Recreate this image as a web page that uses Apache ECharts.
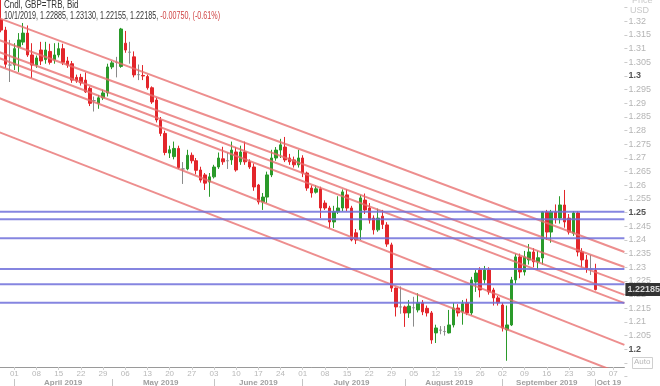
<!DOCTYPE html>
<html><head><meta charset="utf-8">
<script src="https://cdn.jsdelivr.net/npm/echarts@6/dist/echarts.min.js"></script>
<style>html,body{margin:0;padding:0;background:#fff}#c{width:660px;height:386px}</style>
</head><body><div id="c"></div><script>
const dates = [
'2019-03-27','2019-03-28','2019-03-29',
'2019-04-01','2019-04-02','2019-04-03','2019-04-04','2019-04-05','2019-04-08','2019-04-09','2019-04-10','2019-04-11','2019-04-12','2019-04-15','2019-04-16','2019-04-17','2019-04-18','2019-04-19','2019-04-22','2019-04-23','2019-04-24','2019-04-25','2019-04-26','2019-04-29','2019-04-30',
'2019-05-01','2019-05-02','2019-05-03','2019-05-06','2019-05-07','2019-05-08','2019-05-09','2019-05-10','2019-05-13','2019-05-14','2019-05-15','2019-05-16','2019-05-17','2019-05-20','2019-05-21','2019-05-22','2019-05-23','2019-05-24','2019-05-27','2019-05-28','2019-05-29','2019-05-30','2019-05-31',
'2019-06-03','2019-06-04','2019-06-05','2019-06-06','2019-06-07','2019-06-10','2019-06-11','2019-06-12','2019-06-13','2019-06-14','2019-06-17','2019-06-18','2019-06-19','2019-06-20','2019-06-21','2019-06-24','2019-06-25','2019-06-26','2019-06-27','2019-06-28',
'2019-07-01','2019-07-02','2019-07-03','2019-07-04','2019-07-05','2019-07-08','2019-07-09','2019-07-10','2019-07-11','2019-07-12','2019-07-15','2019-07-16','2019-07-17','2019-07-18','2019-07-19','2019-07-22','2019-07-23','2019-07-24','2019-07-25','2019-07-26','2019-07-29','2019-07-30','2019-07-31',
'2019-08-01','2019-08-02','2019-08-05','2019-08-06','2019-08-07','2019-08-08','2019-08-09','2019-08-12','2019-08-13','2019-08-14','2019-08-15','2019-08-16','2019-08-19','2019-08-20','2019-08-21','2019-08-22','2019-08-23','2019-08-26','2019-08-27','2019-08-28','2019-08-29','2019-08-30',
'2019-09-02','2019-09-03','2019-09-04','2019-09-05','2019-09-06','2019-09-09','2019-09-10','2019-09-11','2019-09-12','2019-09-13','2019-09-16','2019-09-17','2019-09-18','2019-09-19','2019-09-20','2019-09-23','2019-09-24','2019-09-25','2019-09-26','2019-09-27','2019-09-30',
'2019-10-01','2019-10-02','2019-10-03','2019-10-04','2019-10-07','2019-10-08','2019-10-09'
];
const opens = [1.3205,1.3168,1.3040,1.3040,1.3106,1.3124,1.3157,1.3077,1.3040,1.3095,1.3060,1.3090,1.3059,1.3077,1.3100,1.3055,1.3045,1.2995,1.2995,1.2985,1.2955,1.2910,1.2900,1.2920,1.2938,
1.3033,1.3050,1.3035,1.3120,1.3087,1.3070,1.3005,1.3002,1.2998,1.2957,1.2912,1.2839,1.2790,1.2718,1.2705,1.2735,1.2660,1.2660,1.2710,1.2690,1.2656,1.2638,1.2612,
1.2631,1.2667,1.2697,1.2690,1.2693,1.2722,1.2686,1.2722,1.2686,1.2667,1.2601,1.2539,1.2557,1.2638,1.2700,1.2729,1.2740,1.2700,1.2693,1.2675,
1.2700,1.2645,1.2590,1.2575,1.2587,1.2535,1.2517,1.2466,1.2503,1.2517,1.2565,1.2517,1.2426,1.2437,1.2546,1.2517,1.2480,1.2437,1.2487,1.2455,1.2382,1.2224,1.2155,
1.2155,1.2133,1.2152,1.2144,1.2170,1.2150,1.2133,1.2060,1.2070,1.2065,1.2060,1.2089,1.2151,1.2137,1.2170,1.2133,1.2246,1.2290,1.2254,1.2290,1.2217,1.2188,
1.2162,1.2071,1.2089,1.2254,1.2338,1.2283,1.2327,1.2356,1.2320,1.2334,1.2502,1.2429,1.2502,1.2480,1.2528,1.2480,1.2425,1.2499,1.2356,1.2327,1.22935,
1.22885];
const highs = [1.3290,1.3180,1.3132,1.3120,1.3157,1.3194,1.3185,1.3120,1.3075,1.3125,1.3125,1.3118,1.3120,1.3122,1.3118,1.3070,1.3055,1.3005,1.3008,1.3013,1.2962,1.2925,1.2930,1.2950,1.3045,
1.3055,1.3070,1.3176,1.3165,1.3125,1.3090,1.3042,1.3040,1.3005,1.2962,1.2920,1.2850,1.2800,1.2745,1.2760,1.2745,1.2685,1.2730,1.2720,1.2700,1.2668,1.2645,1.2645,
1.2675,1.2720,1.2741,1.2720,1.2760,1.2740,1.2745,1.2760,1.2695,1.2680,1.2605,1.2572,1.2650,1.2730,1.2740,1.2770,1.2777,1.2715,1.2705,1.2730,
1.2710,1.2650,1.2600,1.2600,1.2595,1.2545,1.2525,1.2525,1.2560,1.2585,1.2585,1.2525,1.2440,1.2565,1.2570,1.2535,1.2490,1.2515,1.2510,1.2465,1.2390,1.2226,1.2230,
1.2160,1.2180,1.2192,1.2205,1.2180,1.2160,1.2140,1.2090,1.2085,1.2085,1.2144,1.2170,1.2165,1.2180,1.2185,1.2265,1.2290,1.2300,1.2305,1.2300,1.2225,1.2195,
1.2170,1.2160,1.2265,1.2350,1.2350,1.2360,1.2385,1.2370,1.2360,1.2505,1.2510,1.2510,1.2530,1.2560,1.2583,1.2495,1.2505,1.2505,1.2370,1.2345,1.2345,
1.23130];
const lows = [1.3160,1.3030,1.2978,1.3022,1.3015,1.3113,1.3070,1.2993,1.3030,1.3040,1.3045,1.3042,1.3045,1.3068,1.3040,1.3030,1.2975,1.2975,1.2965,1.2938,1.2890,1.2870,1.2880,1.2912,1.2925,
1.3025,1.2995,1.3030,1.3085,1.3045,1.2995,1.2985,1.2985,1.2950,1.2898,1.2830,1.2780,1.2710,1.2700,1.2695,1.2660,1.2605,1.2655,1.2680,1.2640,1.2610,1.2583,1.2558,
1.2625,1.2660,1.2675,1.2660,1.2675,1.2650,1.2675,1.2675,1.2660,1.2580,1.2530,1.2510,1.2535,1.2630,1.2690,1.2700,1.2685,1.2675,1.2665,1.2665,
1.2630,1.2580,1.2555,1.2570,1.2480,1.2510,1.2444,1.2444,1.2495,1.2505,1.2505,1.2395,1.2385,1.2400,1.2495,1.2460,1.2420,1.2430,1.2440,1.2375,1.2210,1.2120,1.2130,
1.2082,1.2115,1.2083,1.2135,1.2125,1.2120,1.2020,1.2023,1.2055,1.2050,1.2058,1.2080,1.2120,1.2090,1.2125,1.2125,1.2210,1.2190,1.2240,1.2200,1.2160,1.2160,
1.2065,1.1958,1.2085,1.2240,1.2260,1.2270,1.2310,1.2300,1.2290,1.2310,1.2400,1.2390,1.2460,1.2460,1.2445,1.2420,1.2415,1.2340,1.2300,1.2280,1.2272,
1.22155];
const closes = [1.3168,1.3043,1.3040,1.3100,1.3132,1.3157,1.3077,1.3040,1.3066,1.3055,1.3095,1.3050,1.3077,1.3100,1.3050,1.3040,1.2985,1.2982,1.2975,1.2942,1.2900,1.2910,1.2920,1.2938,1.3033,
1.3048,1.3050,1.3172,1.3095,1.3087,1.3004,1.3005,1.3000,1.2957,1.2905,1.2839,1.2790,1.2720,1.2730,1.2735,1.2665,1.2660,1.2710,1.2690,1.2655,1.2619,1.2608,1.2631,
1.2667,1.2700,1.2686,1.2690,1.2729,1.2656,1.2722,1.2686,1.2667,1.2594,1.2539,1.2557,1.2638,1.2700,1.2729,1.2748,1.2693,1.2686,1.2675,1.2700,
1.2645,1.2590,1.2572,1.2587,1.2517,1.2517,1.2466,1.2503,1.2517,1.2576,1.2517,1.2400,1.2400,1.2554,1.2510,1.2473,1.2437,1.2480,1.2457,1.2385,1.2224,1.2155,1.2155,
1.2133,1.2158,1.2152,1.2170,1.2137,1.2133,1.2034,1.2078,1.2070,1.2065,1.2089,1.2151,1.2133,1.2167,1.2133,1.2254,1.2279,1.2217,1.2290,1.2210,1.2188,1.2170,
1.2078,1.2089,1.2254,1.2338,1.2283,1.2338,1.2356,1.2320,1.2335,1.2502,1.2429,1.2502,1.2480,1.2528,1.2466,1.2429,1.2499,1.2356,1.2327,1.2298,1.22935,
1.22185];
const hLevels = [1.2503, 1.2476, 1.2406, 1.2294, 1.2238, 1.2170];
const trendX = [-0.5, 140.5];
const trendLeft = [1.3212, 1.3132, 1.3088, 1.3066, 1.3037, 1.2920, 1.2795];
const trendRight = [1.2356, 1.2301, 1.2243, 1.2199, 1.2169, 1.2016, 1.1906];
const monthStarts = ['2019-04-01','2019-05-01','2019-06-03','2019-07-01','2019-08-01','2019-09-02','2019-10-01'];
const monthLabels = [['2019-04-16','April 2019'],['2019-05-16','May 2019'],['2019-06-17','June 2019'],['2019-07-16','July 2019'],['2019-08-15','August 2019'],['2019-09-16','September 2019'],['2019-10-04','Oct 19']];
const yLabelMin = 1.19, yLabelMax = 1.33, yLabelStep = 0.005;
const yShownMin = 1.2, yShownMax = 1.32;
const plotMin = 1.19352, plotMax = 1.32781;
const instrument = 'Cndl, GBP=TRB, Bid';

const monthMap = Object.fromEntries(monthLabels);
const isMonday = v => new Date(v + 'T00:00:00Z').getUTCDay() === 1;
const n = closes.length;
const candleData = opens.map((o, i) => [o, closes[i], lows[i], highs[i]]);
const last = n - 1;
const chg = closes[last] - closes[last - 1];
const pct = chg / closes[last - 1] * 100;
const d = dates[last].split('-');
const hdr = `${+d[1]}/${+d[2]}/${d[0]}, ${opens[last].toFixed(5)}, ${highs[last].toFixed(5)}, ${lows[last].toFixed(5)}, ${closes[last].toFixed(5)}, `;
const hdrChg = `${chg.toFixed(5)}, (${pct.toFixed(2)}%)`;
const AFONT = '"Liberation Sans",Arial,sans-serif';

const gridL = -1.2, gridR = 35.6;
const chart = echarts.init(document.getElementById('c'), null, {renderer: 'canvas'});
const trendSeries = trendLeft.map((l, k) => ({
  type: 'line', xAxisIndex: 2, yAxisIndex: 0, silent: true, showSymbol: false, symbol: 'none',
  data: [[trendX[0], l], [trendX[1], trendRight[k]]],
  lineStyle: {color: 'rgba(232,110,110,0.78)', width: 2}, z: 4, animation: false
}));
const levelSeries = hLevels.map(v => ({
  type: 'line', xAxisIndex: 2, yAxisIndex: 0, silent: true, showSymbol: false, symbol: 'none',
  data: [[trendX[0], v], [trendX[1], v]],
  lineStyle: {color: 'rgba(112,112,218,0.85)', width: 2}, z: 5, animation: false
}));
chart.setOption({
  animation: false,
  backgroundColor: '#fff',
  grid: [
    {left: gridL, right: gridR, top: 0, bottom: 19, containLabel: false, outerBoundsMode: 'none'},
    {left: gridL, right: gridR, top: -5.99, bottom: 9.37, containLabel: false, outerBoundsMode: 'none'}
  ],
  xAxis: [
    {type: 'category', gridIndex: 0, data: dates, boundaryGap: true,
     axisLine: {show: true, lineStyle: {color: '#9a9a9a', width: 1}},
     axisTick: {show: true, alignWithLabel: true, interval: (i, v) => isMonday(v), length: 3, lineStyle: {color: '#cfcfcf'}},
     axisLabel: {interval: (i, v) => isMonday(v), formatter: v => v.slice(8), color: '#b8b8b8', fontSize: 8, fontFamily: AFONT, margin: 3},
     splitLine: {show: false}},
    {type: 'category', gridIndex: 0, data: dates, boundaryGap: true, position: 'bottom', offset: 12,
     axisLine: {show: false},
     axisTick: {show: true, alignWithLabel: true, interval: (i, v) => monthStarts.includes(v), length: 7, inside: false, lineStyle: {color: '#c4c4c4'}},
     axisLabel: {interval: (i, v) => v in monthMap, formatter: v => monthMap[v] || '', color: '#a0a0a0', fontSize: 8, fontWeight: 'bold', fontFamily: AFONT, margin: 0},
     splitLine: {show: false}},
    {type: 'value', gridIndex: 0, min: trendX[0], max: trendX[1], show: false, splitLine: {show: false}},
    {type: 'category', gridIndex: 1, data: dates, show: false}
  ],
  yAxis: [
    {type: 'value', gridIndex: 0, min: plotMin, max: plotMax, show: false, splitLine: {show: false}},
    {type: 'value', gridIndex: 1, position: 'right', min: yLabelMin, max: yLabelMax, interval: yLabelStep,
     axisLine: {show: false}, splitLine: {show: false},
     axisTick: {show: true, length: 3, lineStyle: {color: '#cccccc'}},
     axisLabel: {margin: 4, fontSize: 9, fontFamily: AFONT, color: '#b5b5b5',
       formatter: v => {
         if (v < yShownMin - 1e-6 || v > yShownMax + 1e-6) return '';
         const s = String(parseFloat(v.toFixed(3)));
         return Math.abs(v * 20 - Math.round(v * 20)) < 1e-6 ? '{b|' + s + '}' : s;
       },
       rich: {b: {color: '#555', fontWeight: 'bold', fontSize: 9, fontFamily: AFONT}}}}
  ],
  series: [
    {type: 'candlestick', xAxisIndex: 0, yAxisIndex: 0, data: candleData, barWidth: 3, z: 3,
     itemStyle: {color: '#2a9a2a', color0: '#e3262b', borderColor: '#2a9a2a', borderColor0: '#e3262b', borderColorDoji: '#8a8a8a', borderWidth: 1}},
    {type: 'scatter', xAxisIndex: 2, yAxisIndex: 0, data: [[trendX[1], closes[last]]], symbolSize: 0, clip: false, silent: true, z: 10,
     label: {show: true, position: 'right', distance: 1, formatter: closes[last].toFixed(5), backgroundColor: '#000', color: '#fff',
       fontWeight: 'bold', fontSize: 9, fontFamily: AFONT, padding: [2, 3, 2, 2]}}
  ].concat(trendSeries, levelSeries),
  graphic: [
    {type: 'text', left: 4, top: 0, scaleX: 0.8, originX: 0, style: {text: instrument, font: '10px ' + AFONT, fill: '#333'}},
    {type: 'text', left: 4, top: 11, scaleX: 0.72, originX: 0, style: {rich: {a: {fill: '#333', font: '10px ' + AFONT}, r: {fill: '#d04545', font: '10px ' + AFONT}},
      text: '{a|' + hdr + '}{r|' + hdrChg + '}'}},
    {type: 'text', left: 632, top: -4, style: {text: 'Price', font: '9px ' + AFONT, fill: '#c8c8c8'}},
    {type: 'text', left: 630, top: 6, style: {text: 'USD', font: '9px ' + AFONT, fill: '#c8c8c8'}},
    {type: 'rect', left: 632, top: 357, shape: {width: 20, height: 11}, style: {fill: '#fff', stroke: '#cfcfcf', lineWidth: 1}},
    {type: 'text', left: 634, top: 358, style: {text: 'Auto', font: '8px ' + AFONT, fill: '#b8b8b8'}}
  ]
});
</script></body></html>
